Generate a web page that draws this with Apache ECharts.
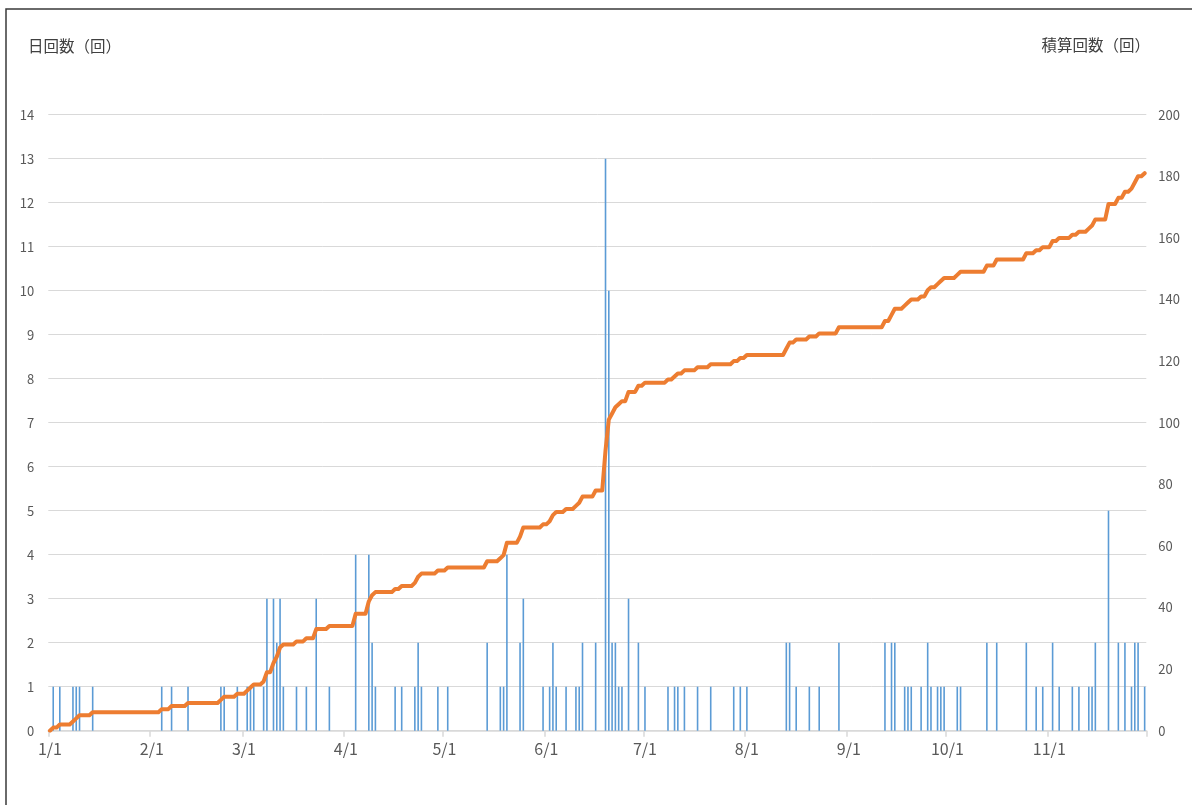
<!DOCTYPE html>
<html>
<head>
<meta charset="utf-8">
<script src="https://cdn.jsdelivr.net/npm/echarts@6/dist/echarts.min.js"></script>
<style>
html,body{margin:0;padding:0;background:#fff;}
#chart{width:1192px;height:805px;}
</style>
</head>
<body>
<div id="chart"></div>
<script>
// ---- Data ----
const months = [1,2,3,4,5,6,7,8,9,10,11];
const daysInMonth = [31,28,31,30,31,30,31,31,30,31,30];

// daily counts (日回数), one array per month
const dailyJan = [0,1,0,1,0,0,0,1,1,1,0,0,0,1,0,0,0,0,0,0,0,0,0,0,0,0,0,0,0,0,0];
const dailyFeb = [0,0,0,1,0,0,1,0,0,0,0,1,0,0,0,0,0,0,0,0,0,1,1,0,0,0,1,0];
const dailyMar = [0,1,1,1,0,0,1,3,0,3,2,3,1,0,0,0,1,0,0,1,0,0,3,0,0,0,1,0,0,0,0];
const dailyApr = [0,0,0,4,0,0,0,4,2,1,0,0,0,0,0,1,0,1,0,0,0,1,2,1,0,0,0,0,1,0];
const dailyMay = [0,1,0,0,0,0,0,0,0,0,0,0,0,2,0,0,0,1,1,4,0,0,0,2,3,0,0,0,0,0,1];
const dailyJun = [0,1,2,1,0,0,1,0,0,1,1,2,0,0,0,2,0,0,13,10,2,2,1,1,0,3,0,0,2,0];
const dailyJul = [1,0,0,0,0,0,0,1,0,1,1,0,1,0,0,0,1,0,0,0,1,0,0,0,0,0,0,1,0,1,0];
const dailyAug = [1,0,0,0,0,0,0,0,0,0,0,0,2,2,0,1,0,0,0,1,0,0,1,0,0,0,0,0,2,0,0];
const dailySep = [0,0,0,0,0,0,0,0,0,0,0,2,0,2,2,0,0,1,1,1,0,0,1,0,2,1,0,1,1,1];
const dailyOct = [0,0,0,1,1,0,0,0,0,0,0,0,2,0,0,2,0,0,0,0,0,0,0,0,2,0,0,1,0,1,0];
const dailyNov = [0,2,0,1,0,0,0,1,0,1,0,0,1,1,2,0,0,0,5,0,0,2,0,2,0,1,2,2,0,1];

// cumulative counts (積算回数), one array per month
const cumJan = [0,1,1,2,2,2,2,3,4,5,5,5,5,6,6,6,6,6,6,6,6,6,6,6,6,6,6,6,6,6,6];
const cumFeb = [6,6,6,7,7,7,8,8,8,8,8,9,9,9,9,9,9,9,9,9,9,10,11,11,11,11,12,12];
const cumMar = [12,13,14,15,15,15,16,19,19,22,24,27,28,28,28,28,29,29,29,30,30,30,33,33,33,33,34,34,34,34,34];
const cumApr = [34,34,34,38,38,38,38,42,44,45,45,45,45,45,45,46,46,47,47,47,47,48,50,51,51,51,51,51,52,52];
const cumMay = [52,53,53,53,53,53,53,53,53,53,53,53,53,55,55,55,55,56,57,61,61,61,61,63,66,66,66,66,66,66,67];
const cumJun = [67,68,70,71,71,71,72,72,72,73,74,76,76,76,76,78,78,78,91,101,103,105,106,107,107,110,110,110,112,112];
const cumJul = [113,113,113,113,113,113,113,114,114,115,116,116,117,117,117,117,118,118,118,118,119,119,119,119,119,119,119,120,120,121,121];
const cumAug = [122,122,122,122,122,122,122,122,122,122,122,122,124,126,126,127,127,127,127,128,128,128,129,129,129,129,129,129,131,131,131];
const cumSep = [131,131,131,131,131,131,131,131,131,131,131,133,133,135,137,137,137,138,139,140,140,140,141,141,143,144,144,145,146,147];
const cumOct = [147,147,147,148,149,149,149,149,149,149,149,149,151,151,151,153,153,153,153,153,153,153,153,153,155,155,155,156,156,157,157];
const cumNov = [157,159,159,160,160,160,160,161,161,162,162,162,163,164,166,166,166,166,171,171,171,173,173,175,175,176,178,180,180,181];

const leftTicks = [0,1,2,3,4,5,6,7,8,9,10,11,12,13,14];
const rightTicks = [0,20,40,60,80,100,120,140,160,180,200];

// ---- Build ----
const categories = [];
months.forEach((m, i) => { for (let d = 1; d <= daysInMonth[i]; d++) categories.push(m + '/' + d); });
const daily = [].concat(dailyJan, dailyFeb, dailyMar, dailyApr, dailyMay, dailyJun, dailyJul, dailyAug, dailySep, dailyOct, dailyNov);
const cumulative = [].concat(cumJan, cumFeb, cumMar, cumApr, cumMay, cumJun, cumJul, cumAug, cumSep, cumOct, cumNov);

const FONT = '"Noto Sans CJK JP", "Noto Sans", sans-serif';
const chart = echarts.init(document.getElementById('chart'), null, {renderer: 'canvas'});
const isMonthStart = (idx, val) => /\/1$/.test(val);

chart.setOption({
  animation: false,
  backgroundColor: '#ffffff',
  grid: {left: 48.3, right: 45.7, top: 114.7, bottom: 74.3, containLabel: false},
  xAxis: {
    type: 'category',
    data: categories,
    boundaryGap: true,
    axisLine: {lineStyle: {color: '#d9d9d9', width: 1.5}},
    axisTick: {show: true, interval: isMonthStart, length: 6, lineStyle: {color: '#d9d9d9', width: 1.5}},
    axisLabel: {interval: isMonthStart, color: '#595959', fontSize: 16, fontFamily: FONT, margin: 10},
    splitLine: {show: false}
  },
  yAxis: [
    {
      type: 'value', min: leftTicks[0], max: leftTicks[leftTicks.length-1], interval: 1,
      axisLine: {show: false}, axisTick: {show: false},
      axisLabel: {color: '#595959', fontSize: 13, fontFamily: FONT, margin: 14},
      splitLine: {lineStyle: {color: '#d9d9d9', width: 1}}
    },
    {
      type: 'value', min: rightTicks[0], max: rightTicks[rightTicks.length-1], interval: 20,
      position: 'right',
      axisLine: {show: false}, axisTick: {show: false},
      axisLabel: {color: '#595959', fontSize: 13, fontFamily: FONT, margin: 12},
      splitLine: {show: false}
    }
  ],
  graphic: [
    {type: 'rect', shape: {x: 6, y: 9, width: 1300, height: 900}, style: {fill: 'none', stroke: '#3a3a3a', lineWidth: 1.5}, silent: true},
    {type: 'text', left: 28, top: 38, style: {text: '日回数（回）', fill: '#404040', font: '15.5px ' + FONT}},
    {type: 'text', right: 42, top: 37, style: {text: '積算回数（回）', fill: '#404040', font: '15.5px ' + FONT}}
  ],
  series: [
    {
      name: '日回数', type: 'bar', yAxisIndex: 0, data: daily,
      barWidth: 1.6, itemStyle: {color: '#5B9BD5'}, z: 2
    },
    {
      name: '積算回数', type: 'line', yAxisIndex: 1, data: cumulative,
      showSymbol: false, symbol: 'none',
      lineStyle: {color: '#ED7D31', width: 4, join: 'round', cap: 'round'}, z: 3
    }
  ]
});
</script>
</body>
</html>
